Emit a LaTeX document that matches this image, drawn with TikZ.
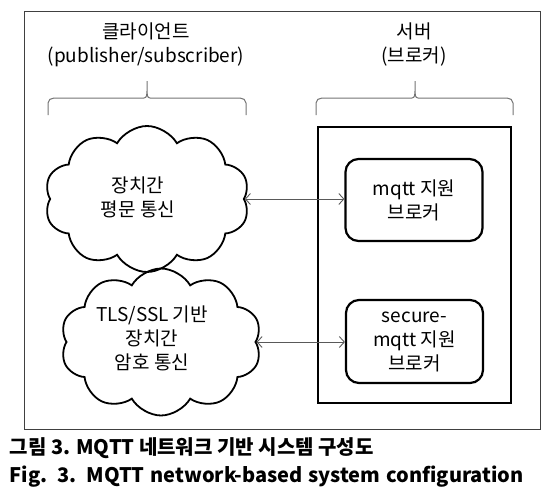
\documentclass[tikz,border=0pt]{standalone}
\usepackage{fontspec}
\setmainfont{Noto Sans CJK KR}
\usetikzlibrary{shapes.symbols,arrows.meta}

\begin{document}
\begin{tikzpicture}[x=1pt, y=-1pt,
    every node/.style={font=\fontsize{19}{24}\selectfont, align=center, inner sep=0pt},
    cloudbox/.style={cloud, cloud puffs=10, cloud puff arc=120, draw, line width=1.8pt, cloud ignores aspect},
    brokerbox/.style={draw, line width=2.2pt, rounded corners=13pt, minimum width=137pt, minimum height=82pt},
    brace/.style={draw=black!55, line width=1pt},
    link/.style={draw=black!65, line width=0.9pt, {Straight Barb[length=5pt,width=11pt]}-{Straight Barb[length=5pt,width=11pt]}},
    caption/.style={anchor=west, font=\fontsize{20}{22}\selectfont\bfseries}]
    \useasboundingbox (0,0) rectangle (559,495);
    \draw[black!75, line width=0.9pt] (24,11) rectangle (540,429);
    % headings and braces
    \node (client) at (146,44.5) {클라이언트\\(publisher/subscriber)};
    \node (server) at (414,44.5) {서버\\(브로커)};
    \foreach \l/\m/\r in {48/147/246, 316/415/513} {
        \draw[brace] (\l,115) -- (\l,103) to[out=90,in=180] ({\l+6},98) -- ({\m-3},98)
            to[out=0,in=-90] (\m,91) -- (\m,81) -- (\m,91) to[out=-90,in=180] ({\m+3},98)
            -- ({\r-6},98) to[out=0,in=90] (\r,103) -- (\r,115);
    }
    % server side
    \node[draw, line width=2.8pt, minimum width=193pt, minimum height=276pt] (serverbox) at (414.5,265) {};
    \node[brokerbox] (mqtt) at (414,200) {mqtt 지원\\브로커};
    \node[brokerbox, minimum height=83pt] (smqtt) at (414.5,341.5) {secure-\\mqtt 지원\\브로커};
    % client side
    \node[cloudbox, minimum width=205pt, minimum height=146pt] (plain) at (147,199) {};
    \node (plaintext) at (138,197) {장치간\\평문 통신};
    \node[cloudbox, minimum width=201pt, minimum height=147pt] (tls) at (161,342) {};
    \node (tlstext) at (152,338) {TLS/SSL 기반\\장치간\\암호 통신};
    \draw[link] (plain.east) -- (plain.east -| mqtt.west);
    \draw[link] (tls.east) -- (tls.east -| smqtt.west);
    % caption
    \node[caption] (captionko) at (9.5,448) {그림 3. MQTT 네트워크 기반 시스템 구성도};
    \node[caption] (captionen) at (9.5,477) {\makebox[514pt][s]{Fig. 3. MQTT network-based system configuration}};
\end{tikzpicture}
\end{document}
